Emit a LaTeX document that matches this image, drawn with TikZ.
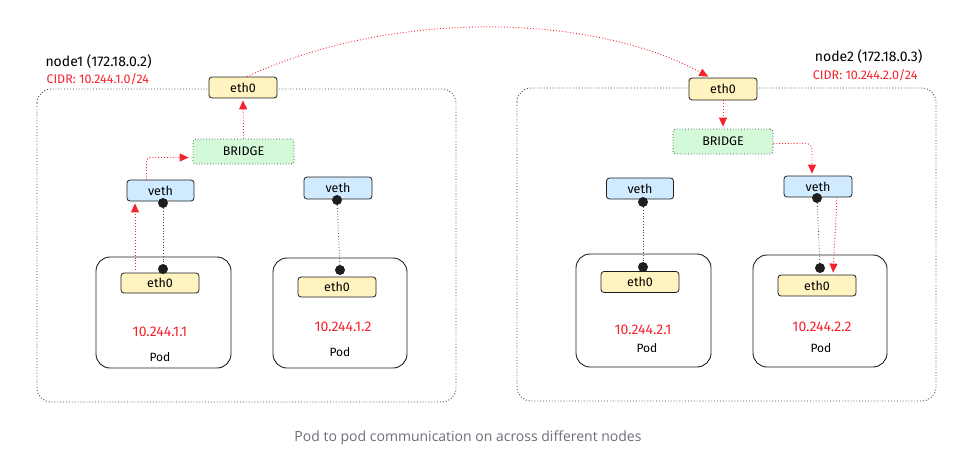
\documentclass[tikz,border=0pt]{standalone}
\usepackage{fontspec}
\setmainfont{Fira Sans}
\newfontfamily\capfont{Open Sans}
\usetikzlibrary{arrows.meta}

\definecolor{ethfill}{HTML}{FFF3BF}
\definecolor{vethfill}{HTML}{D0EBFF}
\definecolor{brfill}{HTML}{D3F9D8}
\definecolor{ink}{HTML}{1E1E1E}
\definecolor{flowred}{HTML}{F5222D}
\definecolor{capgray}{HTML}{6A6F78}

\begin{document}
\begin{tikzpicture}[x=1pt, y=-1pt, >={Triangle[length=9pt,width=8pt]},
    iface/.style={draw=ink, line width=0.8pt, rounded corners=3pt, fill=ethfill,
        minimum width=68pt, minimum height=21pt, inner sep=0pt, font=\fontsize{12.5}{14}\selectfont},
    podif/.style={iface, minimum width=78pt, minimum height=20pt},
    veth/.style={iface, fill=vethfill, minimum width=67pt},
    bridge/.style={iface, draw=ink!80, dotted, fill=brfill, minimum width=101pt, minimum height=25pt},
    pod/.style={draw=ink, line width=0.9pt, rounded corners=14pt, inner sep=0pt},
    host/.style={draw=ink!85, line width=0.9pt, dotted, rounded corners=14pt},
    dot/.style={circle, fill=ink, inner sep=0pt, minimum size=10pt},
    link/.style={draw=ink!80, line width=0.8pt, dotted},
    flow/.style={draw=flowred, line width=0.9pt, dotted, ->, shorten >=2pt},
    ip/.style={text=flowred, font=\fontsize{14}{16}\selectfont},
    podname/.style={font=\fontsize{12}{14}\selectfont}]
    \useasboundingbox (0,0) rectangle (960,453);

    % Hosts
    \draw [host] (37,89) rectangle (456,402);
    \draw [host] (517,88) rectangle (936,401);
    \node [anchor=west, font=\fontsize{14}{16}\selectfont] (n1name) at (42,62) {node1 (172.18.0.2)};
    \node [anchor=west, text=flowred, font=\fontsize{12.5}{14}\selectfont] (n1cidr) at (43,79) {CIDR: 10.244.1.0/24};
    \node [anchor=east, font=\fontsize{14}{16}\selectfont] (n2name) at (926,57) {node2 (172.18.0.3)};
    \node [anchor=east, text=flowred, font=\fontsize{12.5}{14}\selectfont] (n2cidr) at (921,75) {CIDR: 10.244.2.0/24};

    % Pods {n1podA, n1podB, n2podA, n2podB}
    \node [pod, minimum width=135pt, minimum height=111pt] (n1podA) at (163.5,312.5) {};
    \node [pod, minimum width=134pt, minimum height=110pt] (n1podB) at (340,313) {};
    \node [pod, minimum width=135pt, minimum height=113pt] (n2podA) at (643.5,310.5) {};
    \node [pod, minimum width=134pt, minimum height=112pt] (n2podB) at (820,311) {};

    % Interfaces
    \node [iface] (n1eth) at (243,87.5) {eth0};
    \node [iface, minimum height=22pt] (n2eth) at (723,89) {eth0};
    \node [bridge] (n1br) at (243.5,151.5) {BRIDGE};
    \node [bridge, minimum width=100pt] (n2br) at (723,141.5) {BRIDGE};
    \node [veth] (n1vethA) at (160.5,190.5) {veth};
    \node [veth, minimum width=68pt, minimum height=22pt] (n1vethB) at (338,188) {veth};
    \node [veth] (n2vethA) at (640,188.5) {veth};
    \node [veth, minimum width=68pt] (n2vethB) at (818,186.5) {veth};
    \node [podif] (n1podeA) at (160,283) {eth0};
    \node [podif] (n1podeB) at (337,287) {eth0};
    \node [podif, minimum height=21pt] (n2podeA) at (640,282) {eth0};
    \node [podif, minimum height=21pt] (n2podeB) at (817,285.5) {eth0};

    % Pod texts
    \node [ip] (n1ipA) at (160,332) {10.244.1.1};
    \node [podname] (n1lbA) at (160,357) {Pod};
    \node [ip] (n1ipB) at (343,327) {10.244.1.2};
    \node [podname] (n1lbB) at (340,352) {Pod};
    \node [ip] (n2ipA) at (643,330) {10.244.2.1};
    \node [podname] (n2lbA) at (647,348) {Pod};
    \node [ip] (n2ipB) at (822,327) {10.244.2.2};
    \node [podname] (n2lbB) at (821,348) {Pod};

    % veth pairs
    \node [dot] (n1dA) at (163,203) {};
    \node [dot] (n1pA) at (163,269) {};
    \node [dot] (n1dB) at (337,200) {};
    \node [dot] (n1pB) at (340,270) {};
    \node [dot] (n2dA) at (643,202) {};
    \node [dot] (n2pA) at (643,267) {};
    \node [dot] (n2dB) at (817,198) {};
    \node [dot] (n2pB) at (820,268) {};
    \path [link] (n1dA) -- (n1pA);
    \path [link] (n1dB) -- (n1pB);
    \path [link] (n2dA) -- (n2pA);
    \path [link] (n2dB) -- (n2pB);

    % Packet path
    \coordinate (n1src) at (135,270);
    \path [flow] (n1src) -- (n1src |- n1vethA.south);
    \path [flow, rounded corners=4pt] ([xshift=-14pt]n1vethA.north) |- ([yshift=-6pt, xshift=-2pt]n1br.west);
    \path [flow] (n1br.north) -- (n1eth.south);
    \path [flow] ([xshift=4pt]n1eth.north) .. controls (390,10) and (590,12) .. ([xshift=-13pt]n2eth.north);
    \path [flow] (n2eth.south) -- (n2br.north);
    \path [flow, rounded corners=6pt] ([yshift=-2pt]n2br.east) -| ([xshift=-6pt]n2vethB.north);
    \path [flow] ([xshift=19pt]n2vethB.south) -- ([xshift=16pt]n2podeB.north);

    % Caption
    \node [text=capgray, font=\capfont\fontsize{14}{17}\selectfont] (caption) at (468,438)
        {Pod to pod communication on across different nodes};
\end{tikzpicture}
\end{document}
